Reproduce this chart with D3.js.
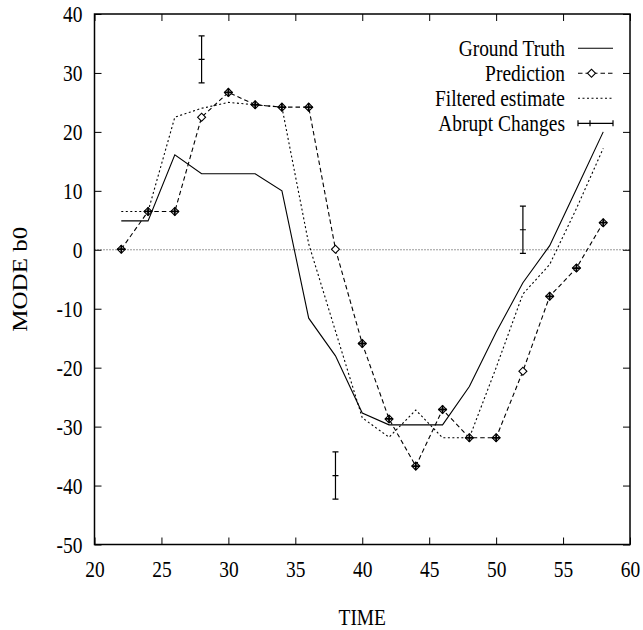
<!DOCTYPE html>
<html>
<head>
<meta charset="utf-8">
<script src="https://cdn.jsdelivr.net/npm/d3@7"></script>
<style>
  body { margin: 0; background: #fff; }
  svg text { font-family: "Liberation Serif", "DejaVu Serif", serif; fill: #000; }
</style>
</head>
<body>
<div id="chart"></div>
<script>
// time steps shared by the three series
var times = [22, 24, 26, 28, 30, 32, 34, 36, 38, 40, 42, 44, 46, 48, 50, 52, 54, 56, 58];

var groundTruth = [4.9, 4.9, 16.1, 12.9, 12.9, 12.9, 10.0, -11.6, -18.0, -27.7,
  -29.7, -29.7, -29.7, -23.2, -14.0, -5.6, 0.7, 10.3, 20.0];
var prediction = [0.1, 6.5, 6.5, 22.5, 26.7, 24.6, 24.2, 24.2, 0.1, -15.9,
  -28.7, -36.7, -27.1, -31.9, -31.9, -20.6, -7.9, -3.1, 4.6];
var filtered = [6.5, 6.5, 22.5, 24.0, 25.0, 24.6, 24.2, 1.0, -13.8, -28.5,
  -31.8, -27.2, -31.9, -31.9, -20.0, -7.5, -2.5, 7.0, 17.2];

// abrupt changes (error bars)
var changeTimes = [28, 38, 52];
var changeValues = [32.3, -38.3, 3.4];
var changeErr = [4, 4, 4];

var xTicks = [20, 25, 30, 35, 40, 45, 50, 55, 60];
var yTicks = [-50, -40, -30, -20, -10, 0, 10, 20, 30, 40];
var legendLabels = ['Ground Truth', 'Prediction', 'Filtered estimate', 'Abrupt Changes'];

(function () {
  'use strict';

  var width = 643, height = 630;
  var margin = {top: 14, right: 13, bottom: 85.5, left: 94.5};
  var squeeze = 'scale(0.81,1)'; // text in the picture is narrow and tall

  var svg = d3.select('#chart').append('svg')
    .attr('width', width)
    .attr('height', height);

  var x = d3.scaleLinear().domain([20, 60]).range([margin.left, width - margin.right]);
  var y = d3.scaleLinear().domain([-50, 40]).range([height - margin.bottom, margin.top]);

  var fmt = function (d) { return String(d); };

  // axes with inward ticks, mirrored on top and right
  var gx = svg.append('g')
    .attr('transform', 'translate(0,' + y(-50) + ')')
    .call(d3.axisBottom(x).tickValues(xTicks).tickSize(-7).tickFormat(fmt));
  var gy = svg.append('g')
    .attr('transform', 'translate(' + x(20) + ',0)')
    .call(d3.axisLeft(y).tickValues(yTicks).tickSize(-7).tickFormat(fmt));
  svg.append('g')
    .attr('transform', 'translate(0,' + y(40) + ')')
    .call(d3.axisTop(x).tickValues(xTicks).tickSize(-7).tickFormat(''));
  svg.append('g')
    .attr('transform', 'translate(' + x(60) + ',0)')
    .call(d3.axisRight(y).tickValues(yTicks).tickSize(-7).tickFormat(''));

  svg.selectAll('.domain').remove();
  svg.selectAll('.tick line').attr('stroke', '#000').attr('stroke-width', 1);

  gx.selectAll('text')
    .attr('x', 0).attr('y', 0).attr('dy', null)
    .attr('transform', 'translate(0,32) ' + squeeze)
    .style('font-size', '24px');
  gy.selectAll('text')
    .attr('x', 0).attr('dy', '0.33em')
    .attr('transform', 'translate(-12,0) ' + squeeze)
    .style('font-size', '24px');

  // zero line
  svg.append('line')
    .attr('x1', x(20)).attr('x2', x(60))
    .attr('y1', y(0)).attr('y2', y(0))
    .attr('stroke', '#000').attr('stroke-width', 0.8)
    .attr('stroke-dasharray', '1,2');

  var line = d3.line()
    .x(function (d) { return x(d[0]); })
    .y(function (d) { return y(d[1]); });

  var zip = function (vals) {
    return times.map(function (t, i) { return [t, vals[i]]; });
  };

  svg.append('path')
    .attr('d', line(zip(groundTruth)))
    .attr('fill', 'none').attr('stroke', '#000').attr('stroke-width', 1.1);

  svg.append('path')
    .attr('d', line(zip(filtered)))
    .attr('fill', 'none').attr('stroke', '#000').attr('stroke-width', 1.1)
    .attr('stroke-dasharray', '2,2.5');

  svg.append('path')
    .attr('d', line(zip(prediction)))
    .attr('fill', 'none').attr('stroke', '#000').attr('stroke-width', 1.1)
    .attr('stroke-dasharray', '4.5,3');

  var diamond = d3.symbol().type(d3.symbolSquare).size(32);

  function drawDiamond(g, cx, cy, withPlus) {
    g.append('path')
      .attr('d', diamond())
      .attr('transform', 'translate(' + cx + ',' + cy + ') rotate(45)')
      .attr('fill', '#fff').attr('stroke', '#000').attr('stroke-width', 1.1);
    if (withPlus) {
      g.append('path')
        .attr('d', 'M' + (cx - 4) + ',' + cy + 'H' + (cx + 4) +
          'M' + cx + ',' + (cy - 4) + 'V' + (cy + 4))
        .attr('stroke', '#000').attr('stroke-width', 1.8);
    }
  }

  var marks = svg.append('g');
  times.forEach(function (t, i) {
    // at the abrupt-change times the diamond is left open
    drawDiamond(marks, x(t), y(prediction[i]), changeTimes.indexOf(t) < 0);
  });

  // error bars
  var bars = svg.append('g').attr('stroke', '#000').attr('stroke-width', 1.2);
  changeTimes.forEach(function (t, i) {
    var cx = x(t), lo = y(changeValues[i] - changeErr[i]), hi = y(changeValues[i] + changeErr[i]);
    var cy = y(changeValues[i]);
    bars.append('path')
      .attr('d', 'M' + cx + ',' + lo + 'V' + hi +
        'M' + (cx - 3) + ',' + lo + 'H' + (cx + 3) +
        'M' + (cx - 3) + ',' + hi + 'H' + (cx + 3) +
        'M' + (cx - 3) + ',' + cy + 'H' + (cx + 3));
  });

  // frame
  svg.append('rect')
    .attr('x', x(20)).attr('y', y(40))
    .attr('width', x(60) - x(20)).attr('height', y(-50) - y(40))
    .attr('fill', 'none').attr('stroke', '#000').attr('stroke-width', 1.5);

  // legend
  var lx1 = 578, lx2 = 613, textRight = 565;
  var legend = svg.append('g');
  legendLabels.forEach(function (label, i) {
    var ly = 48.3 + i * 25;
    legend.append('text')
      .attr('transform', 'translate(' + textRight + ',' + (ly + 8) + ') ' + squeeze)
      .attr('text-anchor', 'end')
      .style('font-size', '24px')
      .text(label);
    if (i === 0) {
      legend.append('line').attr('x1', lx1).attr('x2', lx2).attr('y1', ly).attr('y2', ly)
        .attr('stroke', '#000').attr('stroke-width', 1.1);
    } else if (i === 1) {
      legend.append('line').attr('x1', lx1).attr('x2', lx2).attr('y1', ly).attr('y2', ly)
        .attr('stroke', '#000').attr('stroke-width', 1.1).attr('stroke-dasharray', '4.5,3');
      drawDiamond(legend, (lx1 + lx2) / 2 - 4, ly, false);
    } else if (i === 2) {
      legend.append('line').attr('x1', lx1).attr('x2', lx2).attr('y1', ly).attr('y2', ly)
        .attr('stroke', '#000').attr('stroke-width', 1.1).attr('stroke-dasharray', '2,2.5');
    } else {
      legend.append('path')
        .attr('d', 'M' + lx1 + ',' + ly + 'H' + lx2 +
          'M' + lx1 + ',' + (ly - 3) + 'V' + (ly + 3) +
          'M' + lx2 + ',' + (ly - 3) + 'V' + (ly + 3) +
          'M' + (lx1 + 12) + ',' + (ly - 3) + 'V' + (ly + 3))
        .attr('stroke', '#000').attr('stroke-width', 1.2).attr('fill', 'none');
    }
  });

  // axis titles
  svg.append('text')
    .attr('transform', 'translate(' + ((x(20) + x(60)) / 2) + ',625) ' + squeeze)
    .attr('text-anchor', 'middle')
    .style('font-size', '24px')
    .text('TIME');

  svg.append('text')
    .attr('transform', 'translate(27,' + ((y(40) + y(-50)) / 2) + ') rotate(-90) scale(1,0.81)')
    .attr('text-anchor', 'middle')
    .style('font-size', '25px')
    .text('MODE b0');
})();
</script>
</body>
</html>
